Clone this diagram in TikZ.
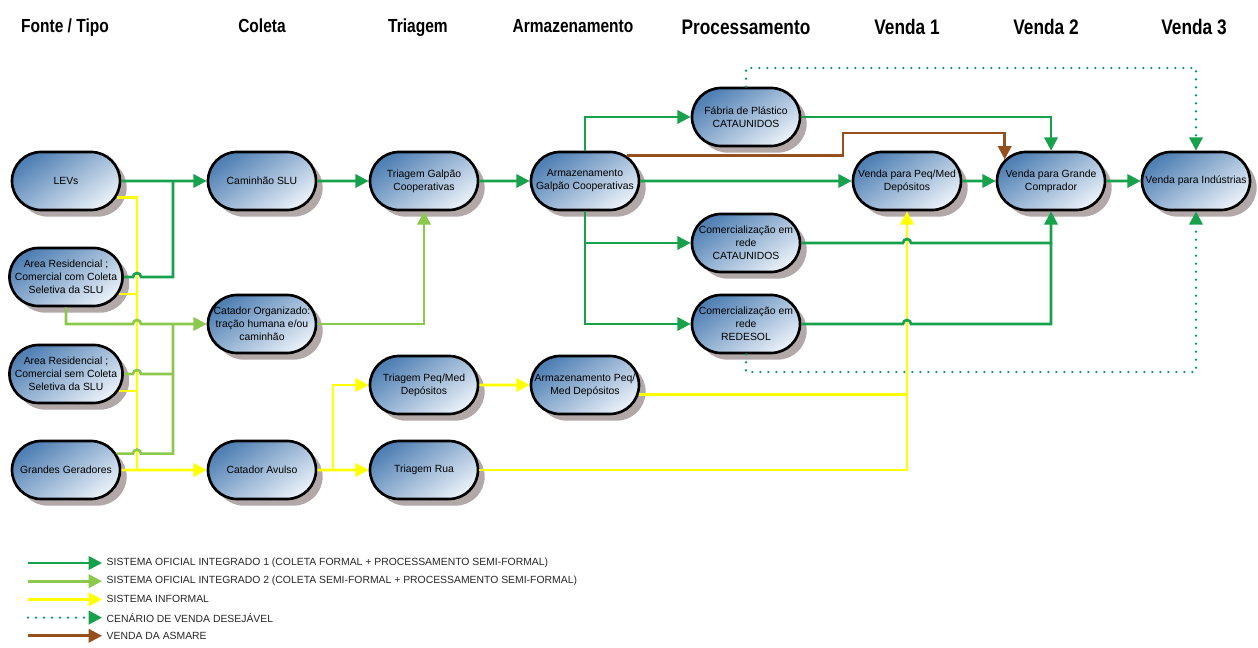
\documentclass[tikz,border=0pt]{standalone}
\usepackage{fontspec}
\setmainfont{Liberation Sans}
\newfontfamily\hdfont[FakeStretch=0.82]{Liberation Sans}
\usetikzlibrary{shadows,arrows.meta,shapes.misc,positioning,calc}

\definecolor{fgreen}{RGB}{24,161,76}
\definecolor{sgreen}{RGB}{140,200,75}
\definecolor{infyel}{RGB}{255,255,0}
\definecolor{asmbrown}{RGB}{150,80,30}
\definecolor{dotcol}{RGB}{0,150,120}
\definecolor{boxtop}{RGB}{80,128,180}
\definecolor{boxbot}{RGB}{230,238,247}
\definecolor{shgray}{RGB}{178,168,168}

\begin{document}
\begin{tikzpicture}
[x=0.75pt,y=0.75pt,
node distance=1cm,
box/.style={shape=rounded rectangle,draw=black,line width=2pt,
  minimum width=81pt,minimum height=43.5pt,inner sep=0pt,align=center,
  font=\fontsize{7.8}{9.75}\selectfont,
  top color=boxtop,bottom color=boxbot,shading angle=35,
  drop shadow={shadow xshift=5pt,shadow yshift=-5pt,fill=shgray,opacity=1}},
head/.style={anchor=base,font=\hdfont\bfseries\fontsize{14.2}{16}\selectfont},
bighead/.style={anchor=base,font=\hdfont\bfseries\fontsize{15.8}{18}\selectfont},
legtext/.style={anchor=west,font=\fontsize{7.8}{9}\selectfont,text=black!85},
%
flow/.style={line width=2pt,-{Triangle[length=10pt,width=10pt]}},
f1/.style={flow,draw=fgreen},
f2/.style={flow,draw=sgreen},
inf/.style={flow,draw=infyel},
asm/.style={flow,draw=asmbrown},
wish/.style={line width=2pt,draw=dotcol,dash pattern=on 0pt off 6pt,line cap=round,
  -{Triangle[length=10pt,width=10pt,color=fgreen]}}]

\useasboundingbox (0,0) rectangle (1258,-648);

% headers
\node (hfonte) [head] at (65,-33) {Fonte / Tipo};
\node (hcoleta) [head] at (262,-33) {Coleta};
\node (htriagem) [head] at (418,-33) {Triagem};
\node (harm) [head] at (573,-33) {Armazenamento};
\node (hproc) [bighead] at (746,-35) {Processamento};
\node (hv1) [bighead] at (907,-35) {Venda 1};
\node (hv2) [bighead] at (1046,-35) {Venda 2};
\node (hv3) [bighead] at (1194,-35) {Venda 3};

% nodes
\node (lev) [box] at (66,-181) {LEVs};
\node (arc) [box] at (66,-277) {Area Residencial ;\\Comercial com Coleta\\Seletiva da SLU};
\node (ars) [box] at (66,-374) {Area Residencial ;\\Comercial sem Coleta\\Seletiva da SLU};
\node (gg) [box] at (66,-470) {Grandes Geradores};
\node (cam) [box] at (262,-181) {Caminhão SLU};
\node (corg) [box] at (262,-324) {Catador Organizado:\\tração humana e/ou\\caminhão};
\node (cav) [box] at (262,-470) {Catador Avulso};
\node (tgc) [box] at (424,-181) {Triagem Galpão\\Cooperativas};
\node (tpm) [box] at (424,-385) {Triagem Peq/Med\\Depósitos};
\node (trua) [box] at (424,-470) {Triagem Rua};
\node (agc) [box] at (585,-181) {Armazenamento\\Galpão Cooperativas};
\node (apm) [box] at (585,-385) {Armazenamento Peq/\\Med Depósitos};
\node (fab) [box] at (746,-117) {Fábria de Plástico\\CATAUNIDOS};
\node (ccat) [box] at (746,-243) {Comercialização em\\rede\\CATAUNIDOS};
\node (cred) [box] at (746,-324) {Comercialização em\\rede\\REDESOL};
\node (vpm) [box] at (907,-181) {Venda para Peq/Med\\Depósitos};
\node (vgc) [box] at (1051,-181) {Venda para Grande\\Comprador};
\node (vind) [box] at (1196,-181) {Venda para Indústrias};

\coordinate (yj) at (137,-470);
\coordinate (gj) at (173,-181);
\coordinate (lj) at (173,-324);
\coordinate (yk) at (333,-470);
\coordinate (bk) at (843,-133);
\coordinate (dt) at (1196,-68);
\coordinate (db) at (1196,-372);

% informal
\draw[inf,-] (lev.-18) -| (yj);
\draw[inf,-] (arc.-18) -- (arc.-18 -| yj);
\draw[inf,-] (ars.-18) -- (ars.-18 -| yj);
\draw[inf] (gg) -- (cav);
\draw[inf] (cav) -- (trua);
\draw[inf] (yk) |- (tpm.west);
\draw[inf] (tpm) -- (apm);
\draw[inf,-] (apm.-10) -- (apm.-10 -| vpm.south);
\draw[inf] (trua.east) -| (vpm.south);

% formal 1
\draw[f1] (lev) -- (cam);
\draw[f1,-] (arc.east) -- ($(arc.east -| yj)+(-3pt,0)$) arc[start angle=180,end angle=0,radius=3pt] -| (gj);
\draw[f1] (cam) -- (tgc);
\draw[f1] (tgc) -- (agc);
\draw[f1] (agc.north) |- (fab.west);
\draw[f1] (agc.south) |- (ccat.west);
\draw[f1] (agc.south) |- (cred.west);
\draw[f1] (agc) -- (vpm);
\draw[f1] (fab.east) -| (vgc.north);
\draw[f1] (ccat.east) -- ($(ccat.east -| vpm.south)+(-3pt,0)$) arc[start angle=180,end angle=0,radius=3pt] -| (vgc.south);
\draw[f1,-] (cred.east) -- ($(cred.east -| vpm.south)+(-3pt,0)$) arc[start angle=180,end angle=0,radius=3pt] -| (ccat.east -| vgc.south);
\draw[f1] (vpm) -- (vgc);
\draw[f1] (vgc) -- (vind);

% formal 2
\draw[f2] (arc.south) -- (arc.south |- corg.west) -- ($(corg.west -| yj)+(-3pt,0)$) arc[start angle=180,end angle=0,radius=3pt] -- (corg.west);
\draw[f2,-] (ars.east) -- ($(ars.east -| yj)+(-3pt,0)$) arc[start angle=180,end angle=0,radius=3pt] -- (ars.east -| lj);
\draw[f2,-] (gg.18) -- ($(gg.18 -| yj)+(-3pt,0)$) arc[start angle=180,end angle=0,radius=3pt] -| (lj);
\draw[f2] (corg.east) -| (tgc.south);

% asmare
\draw[asm] (agc.31) -| (bk) -| (vgc.155);

% desired
\draw[wish] (fab.north) |- (dt) -- (vind.north);
\draw[wish] (cred.south) |- (db) -- (vind.south);

% legend
\foreach \s/\t [count=\i] in {f1/{SISTEMA OFICIAL INTEGRADO 1 (COLETA FORMAL + PROCESSAMENTO SEMI-FORMAL)},
  f2/{SISTEMA OFICIAL INTEGRADO 2 (COLETA SEMI-FORMAL + PROCESSAMENTO SEMI-FORMAL)},
  inf/{SISTEMA INFORMAL},
  wish/{CENÁRIO DE VENDA DESEJÁVEL},
  asm/{VENDA DA ASMARE}}
{
  \coordinate (ls\i) at (28,-563-18.2*\i+18.2);
  \node (lg\i) [legtext] at (102,-563-18.2*\i+18.2) {\t};
  \draw[\s] (ls\i) -- (lg\i.west);
}

\end{tikzpicture}
\end{document}
